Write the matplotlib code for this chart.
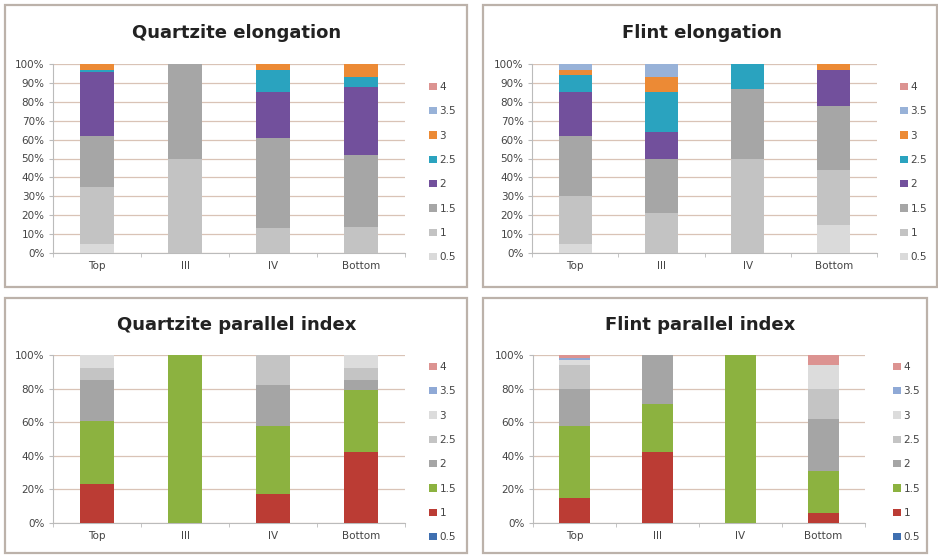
import numpy as np
import matplotlib
matplotlib.use('Agg')
import matplotlib.pyplot as plt
from matplotlib.patches import Rectangle, Patch
from matplotlib.ticker import PercentFormatter

# categories and series
cats = ['Top', 'III', 'IV', 'Bottom']
classes = ['0.5', '1', '1.5', '2', '2.5', '3', '3.5', '4']

# percentages, one row per class (0.5 ... 4), one column per category
quartzite_elong = [
    [5, 0, 0, 0],
    [30, 50, 13, 14],
    [27, 50, 48, 38],
    [34, 0, 24, 36],
    [1, 0, 12, 5],
    [3, 0, 3, 7],
    [0, 0, 0, 0],
    [0, 0, 0, 0],
]
flint_elong = [
    [5, 0, 0, 15],
    [25, 21, 50, 29],
    [32, 29, 37, 34],
    [23, 14, 0, 19],
    [9, 21, 13, 0],
    [3, 8, 0, 3],
    [3, 7, 0, 0],
    [0, 0, 0, 0],
]
quartzite_par = [
    [0, 0, 0, 0],
    [23, 0, 17, 42],
    [38, 100, 41, 37],
    [24, 0, 24, 6],
    [7, 0, 18, 7],
    [8, 0, 0, 8],
    [0, 0, 0, 0],
    [0, 0, 0, 0],
]
flint_par = [
    [0, 0, 0, 0],
    [15, 42, 0, 6],
    [43, 29, 100, 25],
    [22, 29, 0, 31],
    [14, 0, 0, 18],
    [3, 0, 0, 14],
    [1.5, 0, 0, 0],
    [1.5, 0, 0, 6],
]

elong_colors = ['#dadada', '#c3c3c3', '#a6a6a6', '#72509c', '#2aa3bf',
                '#ec8a35', '#98b2d8', '#dc9391']
par_colors = ['#3f6fb0', '#bb3c34', '#8cb240', '#a5a5a5', '#c4c4c4',
              '#dcdcdc', '#8fa9d6', '#dc9391']

W, H = 938, 559
fig = plt.figure(figsize=(W/100, H/100), dpi=100)
fig.patch.set_facecolor('white')

def px(x0, y0, x1, y1):
    # pixel box (top-left origin) -> figure fraction
    return [x0/W, 1 - y1/H, (x1-x0)/W, (y1-y0)/H]

# panel frames
for (x0, y0, x1, y1) in [(5, 5, 467, 287), (483, 5, 937, 287),
                         (5, 298, 467, 553), (483, 298, 927, 553)]:
    fig.patches.append(Rectangle((x0/W, 1-y1/H), (x1-x0)/W, (y1-y0)/H,
                                 transform=fig.transFigure, fill=False,
                                 edgecolor='#bcb2aa', lw=1.6))

def draw(box, data, colors, title, title_xy, step, leg_xy):
    ax = fig.add_axes(px(*box))
    data = np.array(data, dtype=float)
    data = data / data.sum(axis=0) * 100
    x = np.arange(len(cats))
    bottom = np.zeros(len(cats))
    for i in range(len(classes)):
        ax.bar(x, data[i], 0.38, bottom=bottom, color=colors[i], zorder=3)
        bottom += data[i]
    ax.set_xlim(-0.5, 3.5)
    ax.set_ylim(0, 100)
    ax.set_yticks(np.arange(0, 101, step))
    ax.yaxis.set_major_formatter(PercentFormatter(decimals=0))
    ax.set_xticks(x)
    ax.set_xticklabels(cats)
    ax.set_xticks(np.arange(-0.5, 3.6, 1), minor=True)
    ax.tick_params(axis='x', which='major', length=0, pad=6)
    ax.tick_params(axis='x', which='minor', length=3, color='#bbbbbb')
    ax.tick_params(axis='y', length=3, color='#bbbbbb', pad=3)
    ax.tick_params(labelsize=7.5, labelcolor='#444444')
    ax.grid(axis='y', color='#d9c3b6', lw=0.9, zorder=0)
    for s in ['top', 'right']:
        ax.spines[s].set_visible(False)
    for s in ['left', 'bottom']:
        ax.spines[s].set_color('#bbbbbb')
    fig.text(title_xy[0]/W, 1 - title_xy[1]/H, title, ha='center', va='center',
             fontsize=13, fontweight='bold', color='#222222')
    handles = [Patch(facecolor=colors[i], label=classes[i]) for i in range(len(classes))][::-1]
    fig.legend(handles=handles, loc='upper left',
               bbox_to_anchor=(leg_xy[0]/W, 1 - leg_xy[1]/H), frameon=False,
               fontsize=7.5, labelspacing=1.37, handlelength=0.7, handleheight=0.7,
               handletextpad=0.3, labelcolor='#444444', borderpad=0)
    return ax

draw((53, 64, 405, 253), quartzite_elong, elong_colors, 'Quartzite elongation',
     (237, 33), 10, (424, 77))
draw((532, 64, 877, 253), flint_elong, elong_colors, 'Flint elongation',
     (702, 33), 10, (895, 77))
draw((53, 355, 405, 523), quartzite_par, par_colors, 'Quartzite parallel index',
     (237, 325), 20, (424, 357))
draw((533, 355, 865, 523), flint_par, par_colors, 'Flint parallel index',
     (700, 325), 20, (888, 357))

fig.savefig('out.png', dpi=100)
